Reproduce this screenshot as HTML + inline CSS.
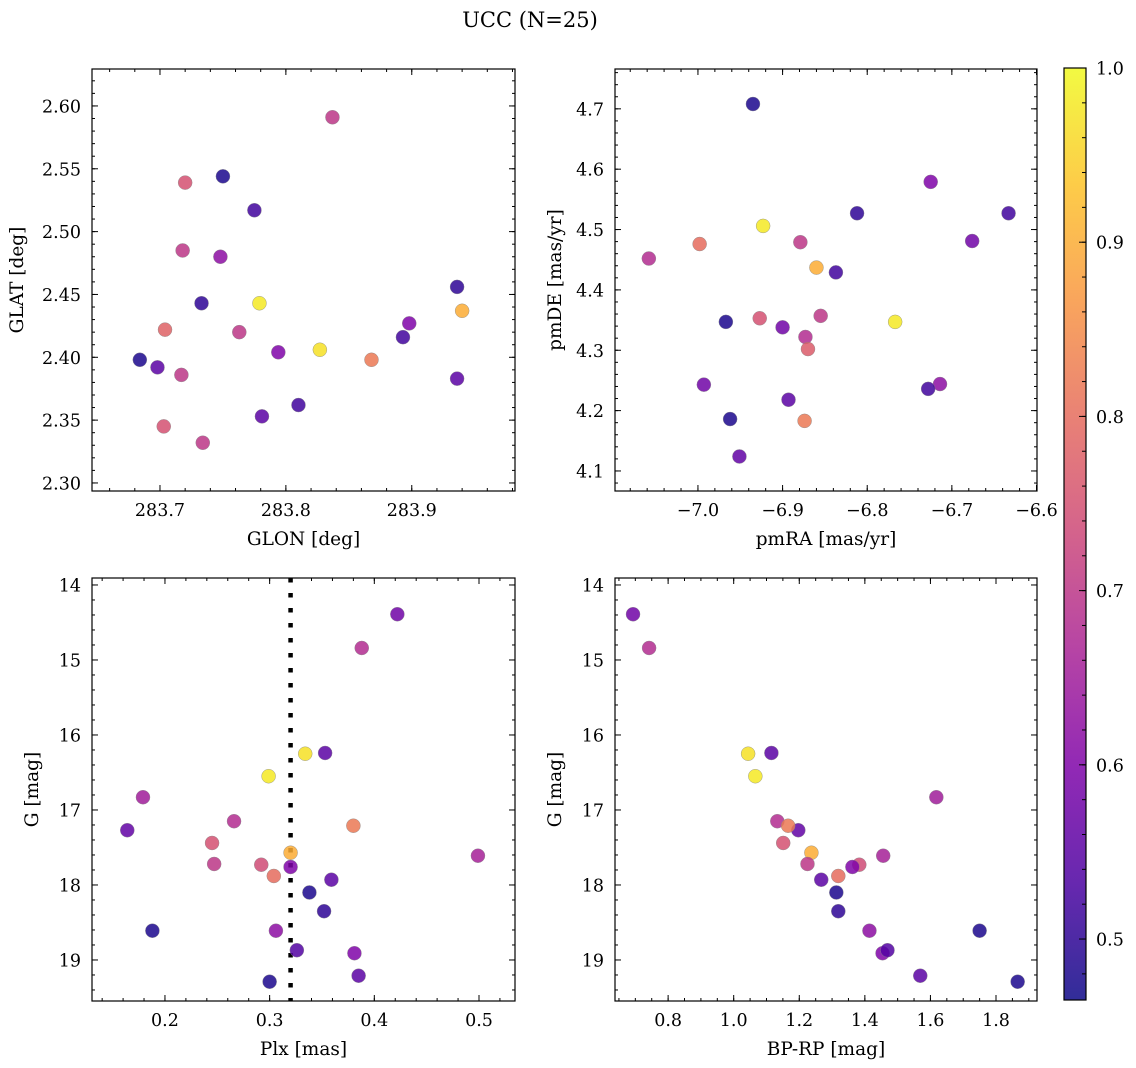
<!DOCTYPE html>
<html><head><meta charset="utf-8"><style>
body{margin:0;background:#fff;}
svg{display:block;font-family:"DejaVu Serif","Liberation Serif",serif;}
</style></head><body>
<svg id="fig" width="1136" height="1068" xmlns="http://www.w3.org/2000/svg">
<text x="530" y="27" font-size="21" text-anchor="middle">UCC (N=25)</text>
</svg>
<script>
// ---- data ----
const glon = [283.837,283.720,283.750,283.775,283.718,283.748,283.733,283.779,283.936,283.940,283.704,283.763,283.898,283.684,283.698,283.794,283.827,283.868,283.893,283.717,283.936,283.703,283.734,283.781,283.810];
const glat = [2.591,2.539,2.544,2.517,2.485,2.480,2.443,2.443,2.456,2.437,2.422,2.420,2.427,2.398,2.392,2.404,2.406,2.398,2.416,2.386,2.383,2.345,2.332,2.353,2.362];
const probTL = [0.70,0.75,0.48,0.52,0.70,0.62,0.50,0.98,0.50,0.90,0.78,0.70,0.60,0.48,0.55,0.60,0.97,0.82,0.52,0.70,0.55,0.75,0.70,0.55,0.52];
const pmra = [-6.935,-6.725,-6.633,-6.812,-7.058,-6.998,-6.923,-6.879,-6.860,-6.837,-6.676,-6.855,-6.927,-6.873,-6.870,-6.967,-6.900,-6.767,-6.993,-6.714,-6.728,-6.893,-6.874,-6.962,-6.951];
const pmde = [4.708,4.579,4.527,4.527,4.452,4.476,4.506,4.479,4.437,4.429,4.481,4.357,4.353,4.322,4.302,4.347,4.338,4.347,4.243,4.244,4.236,4.218,4.183,4.186,4.124];
const probTR = [0.48,0.60,0.52,0.50,0.68,0.80,0.98,0.70,0.90,0.52,0.58,0.70,0.75,0.68,0.77,0.48,0.58,0.98,0.58,0.62,0.52,0.55,0.82,0.48,0.56];
const plx = [0.422,0.388,0.334,0.353,0.299,0.179,0.164,0.266,0.380,0.499,0.245,0.320,0.247,0.292,0.320,0.304,0.359,0.338,0.352,0.188,0.306,0.381,0.326,0.385,0.300];
const gmag = [14.39,14.84,16.25,16.24,16.55,16.83,17.27,17.15,17.21,17.61,17.44,17.57,17.72,17.73,17.76,17.88,17.93,18.10,18.35,18.61,18.61,18.91,18.87,19.21,19.29];
const bprp = [0.693,0.742,1.044,1.115,1.066,1.618,1.197,1.133,1.166,1.456,1.151,1.237,1.225,1.383,1.362,1.319,1.267,1.313,1.319,1.750,1.414,1.454,1.469,1.569,1.866];
const probB = [0.58,0.68,0.97,0.55,0.98,0.65,0.56,0.68,0.82,0.66,0.75,0.90,0.70,0.74,0.60,0.80,0.55,0.48,0.50,0.48,0.62,0.60,0.54,0.55,0.48];
const plxLine = 0.32;
const cbTicks = [0.5,0.6,0.7,0.8,0.9,1.0];

const NS="http://www.w3.org/2000/svg";
const svg=document.getElementById('fig');
function mk(t,a,p){const e=document.createElementNS(NS,t);for(const k in a)e.setAttribute(k,a[k]);(p||svg).appendChild(e);return e;}
const stops=["#0d0887","#4c02a1","#7e03a8","#a92395","#cc4778","#e56b5d","#f89540","#fdc328","#f0f921"];
function hx(c){return [1,3,5].map(i=>parseInt(c.substr(i,2),16));}
function cmap(v){const vmin=0.465,vmax=1.0;let t=Math.max(0,Math.min(1,(v-vmin)/(vmax-vmin)))*8;let i=Math.min(7,Math.floor(t));let f=t-i;const a=hx(stops[i]),b=hx(stops[i+1]);return "rgb("+a.map((x,k)=>Math.round(x+(b[k]-x)*f)).join(",")+")";}

function panel(o){
  const g=mk('g',{});
  
  
  const sx=v=>o.x0+(v-o.xmin)/(o.xmax-o.xmin)*(o.x1-o.x0);
  const sy=o.inv?(v=>o.y0+(v-o.ymin)/(o.ymax-o.ymin)*(o.y1-o.y0)):(v=>o.y1-(v-o.ymin)/(o.ymax-o.ymin)*(o.y1-o.y0));
  const eps=1e-9;
  function ticks(min,max,step){const r=[];for(let v=Math.ceil(min/step-eps)*step;v<=max+eps;v+=step)r.push(+v.toFixed(6));return r;}
  ticks(o.xmin,o.xmax,o.xminor).forEach(v=>{const x=sx(v);mk('line',{x1:x,x2:x,y1:o.y1,y2:o.y1-3,stroke:'#000'},g);mk('line',{x1:x,x2:x,y1:o.y0,y2:o.y0+3,stroke:'#000'},g);});
  ticks(o.ymin,o.ymax,o.yminor).forEach(v=>{const y=sy(v);mk('line',{x1:o.x0,x2:o.x0+3,y1:y,y2:y,stroke:'#000'},g);mk('line',{x1:o.x1,x2:o.x1-3,y1:y,y2:y,stroke:'#000'},g);});
  o.xt.forEach(v=>{const x=sx(v);mk('line',{x1:x,x2:x,y1:o.y1,y2:o.y1-6,stroke:'#000'},g);mk('line',{x1:x,x2:x,y1:o.y0,y2:o.y0+6,stroke:'#000'},g);
    const t=mk('text',{x:x,y:o.y1+25,'font-size':17.5,'text-anchor':'middle'},g);t.textContent=o.xf(v).replace('-','\u2212');
    });
  o.yt.forEach(v=>{const y=sy(v);mk('line',{x1:o.x0,x2:o.x0+6,y1:y,y2:y,stroke:'#000'},g);mk('line',{x1:o.x1,x2:o.x1-6,y1:y,y2:y,stroke:'#000'},g);
    const t=mk('text',{x:o.x0-11,y:y+6.5,'font-size':17.5,'text-anchor':'end'},g);t.textContent=o.yf(v);
    });
  if(o.vline!==undefined){const x=sx(o.vline);const l=mk('line',{x1:x,x2:x,y1:o.y0,y2:o.y1,stroke:'#000','stroke-width':4.5,'stroke-dasharray':'4.5,10.5'},g);
    }
  o.xs.forEach((v,i)=>{const c=mk('circle',{cx:sx(v),cy:sy(o.ys[i]),r:7,fill:cmap(o.c[i]),'fill-opacity':0.85,stroke:'#888','stroke-width':0.4},g);
    });
  const fr=mk('rect',{x:o.x0,y:o.y0,width:o.x1-o.x0,height:o.y1-o.y0,fill:'none',stroke:'#000','stroke-width':1.2},g);
  
  const xl=mk('text',{x:(o.x0+o.x1)/2,y:o.y1+54,'font-size':18.5,'text-anchor':'middle'},g);xl.textContent=o.xlab;
  
  const yx=o.x0-o.ylOff, yy=(o.y0+o.y1)/2;
  const yl=mk('text',{x:yx,y:yy,'font-size':18.5,'text-anchor':'middle',transform:`rotate(-90 ${yx} ${yy})`},g);yl.textContent=o.ylab;
  
}
panel({name:'glon-glat-panel',x0:92,x1:515,y0:69,y1:491,xmin:283.646,xmax:283.982,ymin:2.2936,ymax:2.6294,
  xminor:0.02,yminor:0.01,xt:[283.7,283.8,283.9],yt:[2.30,2.35,2.40,2.45,2.50,2.55,2.60],
  xf:v=>v.toFixed(1),yf:v=>v.toFixed(2),xs:glon,ys:glat,c:probTL,xlab:'GLON [deg]',ylab:'GLAT [deg]',ylOff:69});
panel({name:'proper-motion-panel',x0:615,x1:1037,y0:69,y1:491,xmin:-7.098,xmax:-6.5994,ymin:4.0668,ymax:4.766,
  xminor:0.02,yminor:0.02,xt:[-7.0,-6.9,-6.8,-6.7,-6.6],yt:[4.1,4.2,4.3,4.4,4.5,4.6,4.7],
  xf:v=>v.toFixed(1),yf:v=>v.toFixed(1),xs:pmra,ys:pmde,c:probTR,xlab:'pmRA [mas/yr]',ylab:'pmDE [mas/yr]',ylOff:54});
panel({name:'plx-g-panel',x0:92,x1:515,y0:578,y1:1001,xmin:0.1303,xmax:0.5344,ymin:13.907,ymax:19.547,inv:true,
  xminor:0.02,yminor:0.2,xt:[0.2,0.3,0.4,0.5],yt:[14,15,16,17,18,19],
  xf:v=>v.toFixed(1),yf:v=>String(v),xs:plx,ys:gmag,c:probB,xlab:'Plx [mas]',ylab:'G [mag]',ylOff:54,vline:plxLine});
panel({name:'cmd-panel',x0:615,x1:1037,y0:578,y1:1001,xmin:0.638,xmax:1.925,ymin:13.907,ymax:19.547,inv:true,
  xminor:0.05,yminor:0.2,xt:[0.8,1.0,1.2,1.4,1.6,1.8],yt:[14,15,16,17,18,19],
  xf:v=>v.toFixed(1),yf:v=>String(v),xs:bprp,ys:gmag,c:probB,xlab:'BP-RP [mag]',ylab:'G [mag]',ylOff:54});
// colorbar
const cb=mk('g',{});


const defs=mk('defs',{},cb);
const lg=mk('linearGradient',{id:'cbg',x1:0,y1:1,x2:0,y2:0},defs);
stops.forEach((s,i)=>mk('stop',{offset:i/8,'stop-color':s,'stop-opacity':0.85},lg));
const cy=v=>1000-(v-0.465)/(1.0-0.465)*(1000-68);
mk('rect',{x:1064,y:68,width:22,height:932,fill:'url(#cbg)'},cb);
for(let v=0.48;v<=1.0001;v+=0.02){const y=cy(v);mk('line',{x1:1086,x2:1082,y1:y,y2:y,stroke:'#000'},cb);}
cbTicks.forEach(v=>{const y=cy(v);mk('line',{x1:1086,x2:1079,y1:y,y2:y,stroke:'#000'},cb);
  const t=mk('text',{x:1096,y:y+6.5,'font-size':17.5},cb);t.textContent=v.toFixed(1);
  });
mk('rect',{x:1064,y:68,width:22,height:932,fill:'none',stroke:'#000','stroke-width':1.2},cb);
</script>
</body></html>
